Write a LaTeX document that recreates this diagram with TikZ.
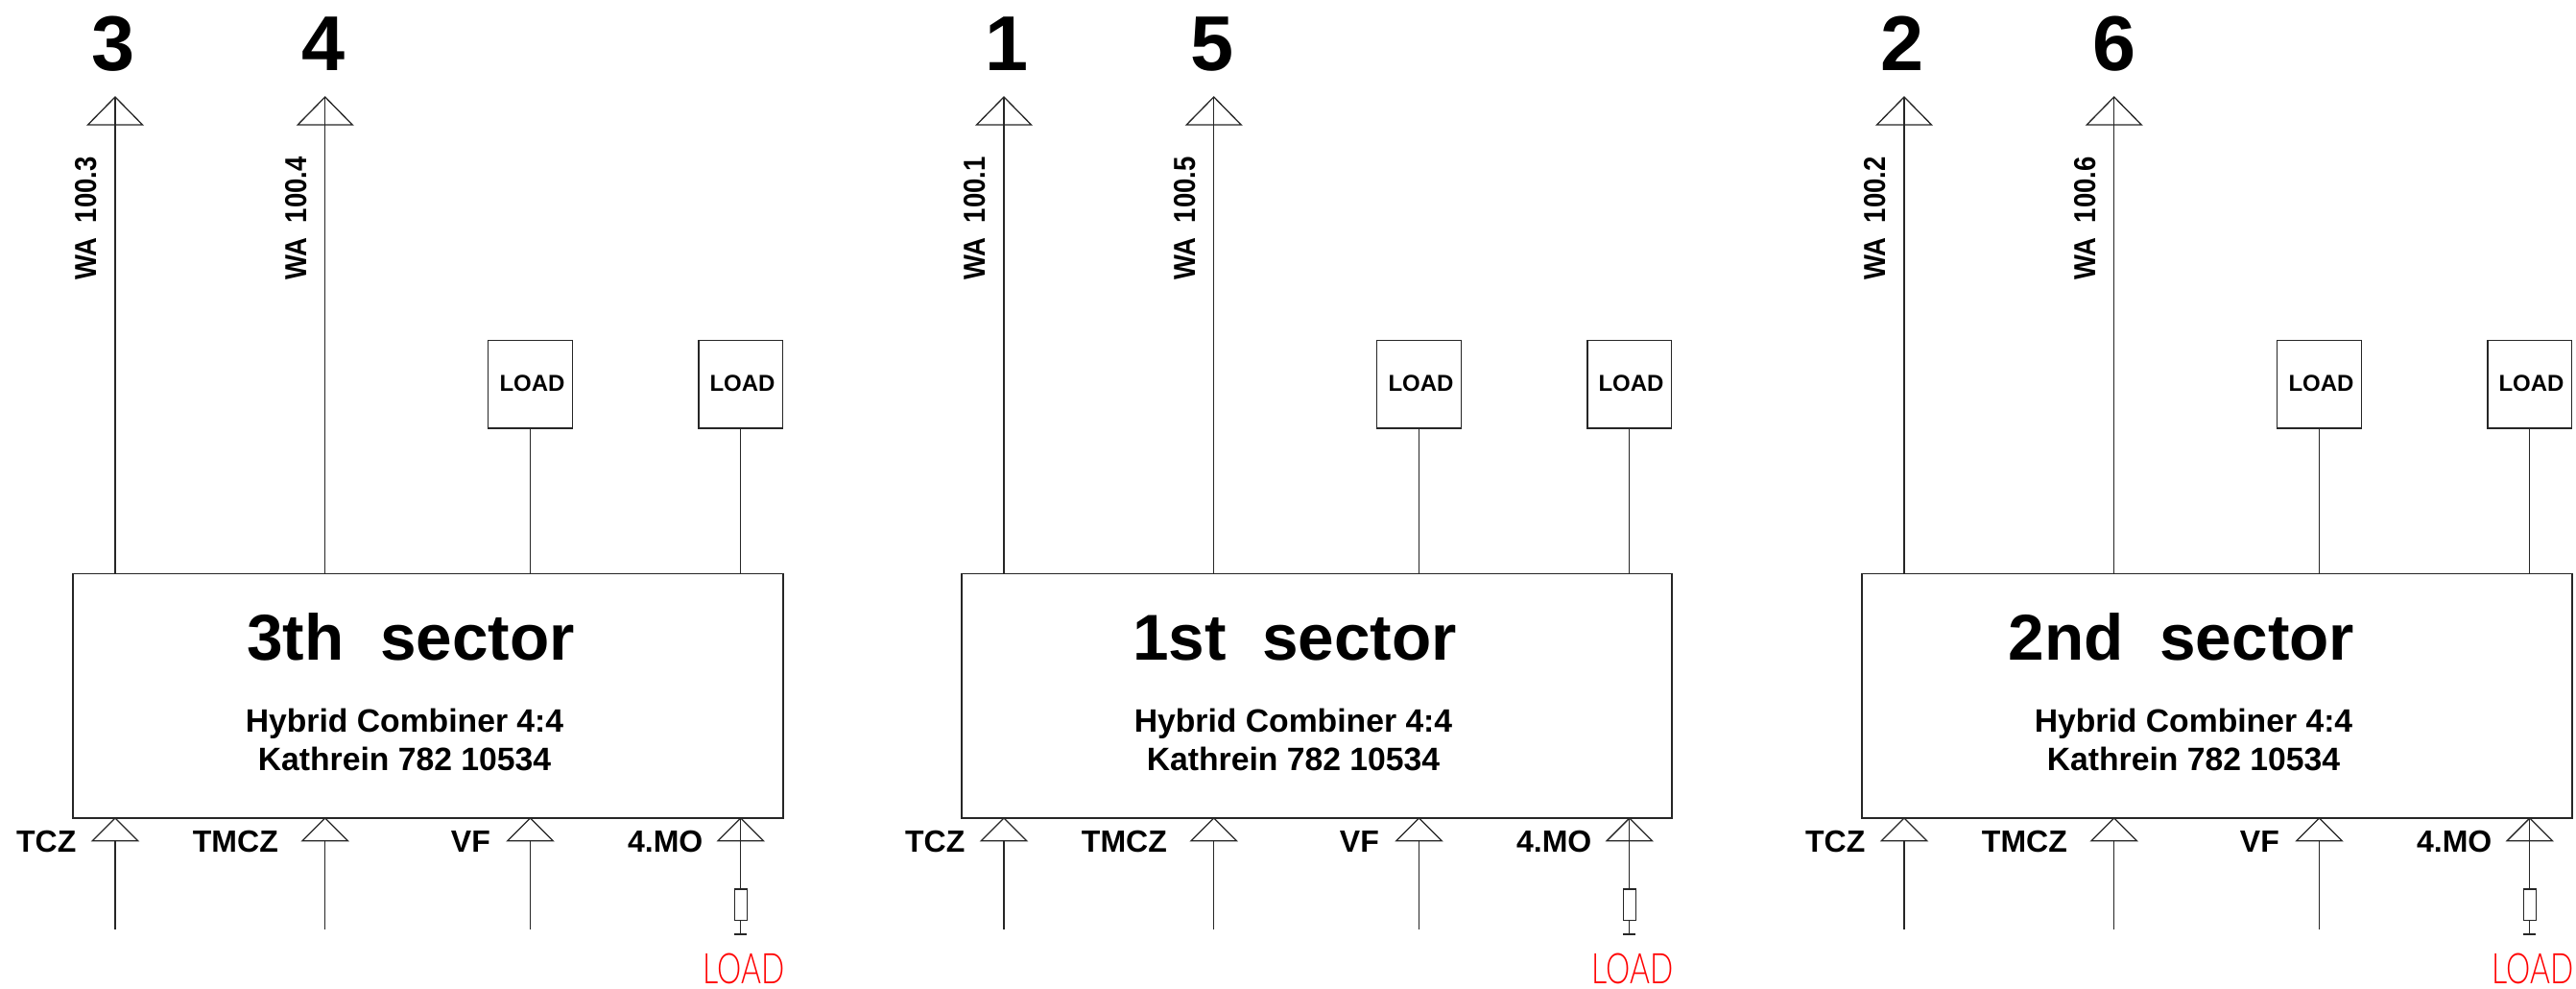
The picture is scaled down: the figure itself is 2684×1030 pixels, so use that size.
\documentclass[tikz,border=0pt]{standalone}
\usepackage{fontspec}
\setmainfont{Liberation Sans}
\newfontfamily\cadfont{Lato Light}
\tikzset{
  x=1pt,y=-1pt,
  wire/.style={draw=black!85,line width=1.3pt},
  frame/.style={wire,rectangle,inner sep=0pt,outer sep=0pt,fill=white},
  bigtxt/.style={font=\bfseries\fontsize{67.5}{67.5}\selectfont,inner sep=0pt,anchor=base},
  numtxt/.style={font=\bfseries\fontsize{81}{81}\selectfont,inner sep=0pt,anchor=base},
  subtxt/.style={font=\bfseries\fontsize{33.7}{33.7}\selectfont,inner sep=0pt,anchor=base},
  sigtxt/.style={font=\bfseries\fontsize{32}{32}\selectfont,inner sep=0pt,anchor=base east},
  loadtxt/.style={font=\bfseries\fontsize{24}{24}\selectfont,inner sep=0pt,anchor=base},
  watxt/.style={font=\bfseries\fontsize{27.5}{27.5}\selectfont,inner sep=0pt,anchor=base,rotate=90},
  redtxt/.style={font=\cadfont\fontsize{44}{44}\selectfont,text=red,inner sep=0pt,anchor=base},
}
\begin{document}
\begin{tikzpicture}
\useasboundingbox (0,0) rectangle (2684,1030);
\foreach \n/\x/\ttl/\tc/\a/\aoff/\b/\boff/\p/\q in {
  s/76/{3th\ \ sector}/352/3/42/4/261/100.3/100.4,
  f/1002/{1st\ \ sector}/347/1/47/5/261/100.1/100.5,
  d/1940/{2nd\ \ sector}/333/2/42/6/262.5/100.2/100.6}{
  % main box
  \node[frame,minimum width=740pt,minimum height=254.5pt] (\n-box) at ({\x+370},724.7) {};
  \node[bigtxt] (\n-title) at ({\x+\tc},687) {\ttl};
  \node[subtxt] (\n-hyb) at ({\x+345.5},762.3) {Hybrid Combiner 4:4};
  \node[subtxt] (\n-kat) at ({\x+345.5},802.7) {Kathrein 782 10534};
  % outputs
  \coordinate (\n-f1) at ({\x+44},597.5);
  \coordinate (\n-t1) at ({\x+44},101);
  \coordinate (\n-f2) at ({\x+262.7},597.5);
  \coordinate (\n-t2) at ({\x+262.7},101);
  \draw[wire] (\n-f1) -- (\n-t1);
  \draw[wire] (\n-f2) -- (\n-t2);
  \draw[wire] (\n-t1) -- ++(-28.5,29) -- ++(57,0) -- cycle;
  \draw[wire] (\n-t2) -- ++(-28.5,29) -- ++(57,0) -- cycle;
  \node[numtxt] (\n-n1) at ({\x+\aoff},74) {\a};
  \node[numtxt] (\n-n2) at ({\x+\boff},74) {\b};
  \node[watxt] (\n-wa1) at ({\x+24.5},227.5) {\scalebox{1}[1.15]{WA\ \ \p}};
  \node[watxt] (\n-wa2) at ({\x+243},227.5) {\scalebox{1}[1.15]{WA\ \ \q}};
  % load boxes
  \node[frame,minimum width=87.8pt,minimum height=91.3pt] (\n-l3) at ({\x+476.5},400.3) {};
  \node[frame,minimum width=87.8pt,minimum height=91.3pt] (\n-l4) at ({\x+695.8},400.3) {};
  \node[loadtxt] (\n-lt3) at ({\x+478.5},407) {LOAD};
  \node[loadtxt] (\n-lt4) at ({\x+697.5},407) {LOAD};
  \coordinate (\n-f3) at ({\x+476.5},597.5);
  \coordinate (\n-f4) at ({\x+695.8},597.5);
  \draw[wire] (\n-f3) -- (\n-l3.south);
  \draw[wire] (\n-f4) -- (\n-l4.south);
  % inputs
  \foreach \i/\dx/\lab/\rgt in {1/44/TCZ/3.5,2/262.7/TMCZ/214,3/476.5/VF/435,4/695.8/4.MO/656.5}{
    \coordinate (\n-ia\i) at ({\x+\dx},852);
    \draw[wire] (\n-ia\i) -- ++(-23.7,23.7) -- ++(47.4,0) -- cycle;
    \node[sigtxt] (\n-il\i) at ({\x+\rgt},887) {\lab};
  }
  \foreach \i/\dx in {1/44,2/262.7,3/476.5}{
    \coordinate (\n-ib\i) at ({\x+\dx},967.7);
    \coordinate (\n-ic\i) at ({\x+\dx},875.7);
    \draw[wire] (\n-ib\i) -- (\n-ic\i);
  }
  % terminated input
  \node[frame,minimum width=13pt,minimum height=32.7pt] (\n-res) at ({\x+695.8},942.3) {};
  \coordinate (\n-gnd) at ({\x+695.8},973);
  \draw[wire] (\n-ia4) -- (\n-res.north);
  \draw[wire] (\n-res.south) -- (\n-gnd);
  \draw[wire] ([xshift=-6.5pt]\n-gnd) -- ([xshift=6.5pt]\n-gnd);
  \node[redtxt] (\n-red) at ({\x+699.3},1024) {\scalebox{0.725}[1]{LOAD}};
}
\end{tikzpicture}
\end{document}
